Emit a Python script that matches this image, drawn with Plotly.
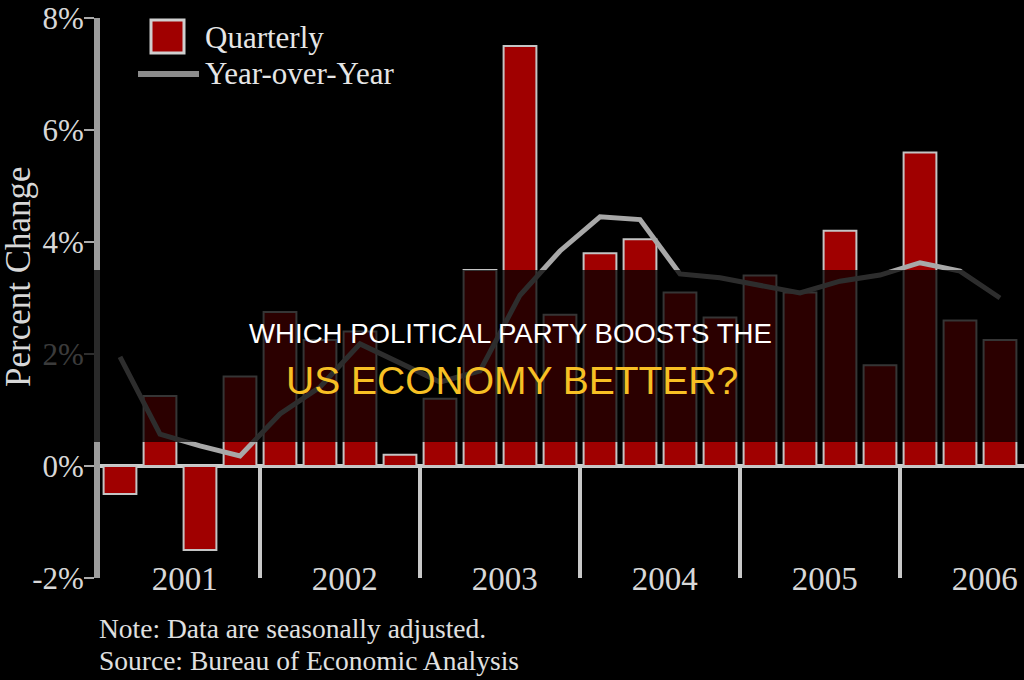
import plotly.graph_objects as go

# ---- data ----
quarters = ["2001 Q1", "2001 Q2", "2001 Q3", "2001 Q4",
            "2002 Q1", "2002 Q2", "2002 Q3", "2002 Q4",
            "2003 Q1", "2003 Q2", "2003 Q3", "2003 Q4",
            "2004 Q1", "2004 Q2", "2004 Q3", "2004 Q4",
            "2005 Q1", "2005 Q2", "2005 Q3", "2005 Q4",
            "2006 Q1", "2006 Q2", "2006 Q3"]
quarterly = [-0.5, 1.25, -1.5, 1.6,
             2.75, 2.25, 2.4, 0.2,
             1.2, 3.5, 7.5, 2.7,
             3.8, 4.05, 3.1, 2.65,
             3.4, 3.1, 4.2, 1.8,
             5.6, 2.6, 2.25]
year_over_year = [1.95, 0.57, 0.36, 0.18,
                  0.93, 1.41, 2.18, 1.84,
                  1.5, 1.7, 3.05, 3.84,
                  4.45, 4.4, 3.43, 3.36,
                  3.23, 3.09, 3.3, 3.41,
                  3.63, 3.48, 3.0]
years = ["2001", "2002", "2003", "2004", "2005", "2006"]
y_ticks = [-2, 0, 2, 4, 6, 8]
y_tick_labels = ["-2%", "0%", "2%", "4%", "6%", "8%"]
series_names = ["Quarterly", "Year-over-Year"]

title_line1 = "WHICH POLITICAL PARTY BOOSTS THE"
title_line2 = "US ECONOMY BETTER?"
note_lines = ["Note: Data are seasonally adjusted.",
              "Source: Bureau of Economic Analysis"]

# ---- figure ----
W, H = 1024, 680
L, R, T, B = 100, 0, 18, 102
plot_w = W - L - R
plot_h = H - T - B

BAR_COLOR = "#a00000"
BAR_EDGE = "#c4c4c4"
LINE_COLOR = "#a8a8a8"

def px_x(px):
    return (px - L) / plot_w

def px_y(py):
    return (H - B - py) / plot_h

xidx = list(range(len(quarters)))
serif = "Liberation Serif, Times New Roman, serif"
sans = "Liberation Sans, Arial, sans-serif"

fig = go.Figure()
fig.add_trace(go.Bar(
    x=xidx, y=quarterly, name=series_names[0], customdata=quarters,
    marker=dict(color=BAR_COLOR, line=dict(color=BAR_EDGE, width=2)),
    width=0.82, showlegend=False,
))
fig.add_trace(go.Scatter(
    x=xidx, y=year_over_year, name=series_names[1], mode="lines",
    line=dict(color=LINE_COLOR, width=5), showlegend=False,
))

shapes = []
# year dividers below the zero line
for k in range(1, len(years)):
    shapes.append(dict(type="line", xref="x", yref="y",
                       x0=4 * k - 0.5, x1=4 * k - 0.5, y0=0, y1=y_ticks[0],
                       line=dict(color="#c8c8c8", width=4), layer="below"))
# legend keys
shapes.append(dict(type="rect", xref="paper", yref="paper",
                   x0=px_x(151), x1=px_x(184), y0=px_y(53), y1=px_y(20),
                   fillcolor=BAR_COLOR, line=dict(color="#cfcfcf", width=3)))
shapes.append(dict(type="line", xref="paper", yref="paper",
                   x0=px_x(138), x1=px_x(199), y0=px_y(74), y1=px_y(74),
                   line=dict(color="#8c8c8c", width=6)))
# dark title band
shapes.append(dict(type="rect", xref="paper", yref="paper",
                   x0=px_x(0), x1=px_x(W), y0=px_y(442), y1=px_y(270),
                   fillcolor="rgba(0,0,0,0.73)", line=dict(width=0), layer="above"))

annotations = [
    dict(text=series_names[0], xref="paper", yref="paper", x=px_x(203), y=px_y(38),
         xanchor="left", yanchor="middle", showarrow=False,
         font=dict(family=serif, size=31, color="#e6e6e6")),
    dict(text=series_names[1], xref="paper", yref="paper", x=px_x(203), y=px_y(74),
         xanchor="left", yanchor="middle", showarrow=False,
         font=dict(family=serif, size=31, color="#e6e6e6")),
    dict(text=title_line1, xref="paper", yref="paper", x=px_x(510), y=px_y(333),
         xanchor="center", yanchor="middle", showarrow=False,
         font=dict(family=sans, size=27.6, color="#ffffff")),
    dict(text=title_line2, xref="paper", yref="paper", x=px_x(512), y=px_y(381),
         xanchor="center", yanchor="middle", showarrow=False,
         font=dict(family=sans, size=39, color="#f7c024")),
    dict(text="Percent Change", xref="paper", yref="paper", x=px_x(18), y=px_y(277),
         xanchor="center", yanchor="middle", showarrow=False, textangle=-90,
         font=dict(family=serif, size=35, color="#d8d8d8")),
    dict(text=note_lines[0], xref="paper", yref="paper", x=px_x(97), y=px_y(628),
         xanchor="left", yanchor="middle", showarrow=False,
         font=dict(family=serif, size=27.5, color="#e0e0e0")),
    dict(text=note_lines[1], xref="paper", yref="paper", x=px_x(97), y=px_y(660),
         xanchor="left", yanchor="middle", showarrow=False,
         font=dict(family=serif, size=27.5, color="#e0e0e0")),
]

fig.update_layout(
    width=W, height=H,
    margin=dict(l=L, r=R, t=T, b=B, autoexpand=False),
    paper_bgcolor="#000000", plot_bgcolor="#000000",
    showlegend=False,
    bargap=0.18,
    shapes=shapes,
    annotations=annotations,
    xaxis=dict(range=[-0.5, (W - L) / 40 - 0.5], showgrid=False, zeroline=False,
               showline=False,
               tickvals=[4 * k + 1.62 for k in range(len(years))], ticktext=years,
               ticks="", ticklabelstandoff=-22,
               tickfont=dict(family=serif, size=33, color="#d8d8d8")),
    yaxis=dict(range=[y_ticks[0], y_ticks[-1]], tickvals=y_ticks, ticktext=y_tick_labels,
               showgrid=False, zeroline=True, zerolinecolor="#cccccc", zerolinewidth=4,
               showline=True, linecolor="#9c9c9c", linewidth=6,
               ticks="outside", ticklen=10, tickwidth=2, tickcolor="#aaaaaa",
               ticklabelstandoff=-6,
               tickfont=dict(family=serif, size=31, color="#d8d8d8")),
)

fig.write_html(
    "out.html",
    config={"displayModeBar": False},
    post_script="document.body.style.margin='0';document.body.style.background='#000';",
)
